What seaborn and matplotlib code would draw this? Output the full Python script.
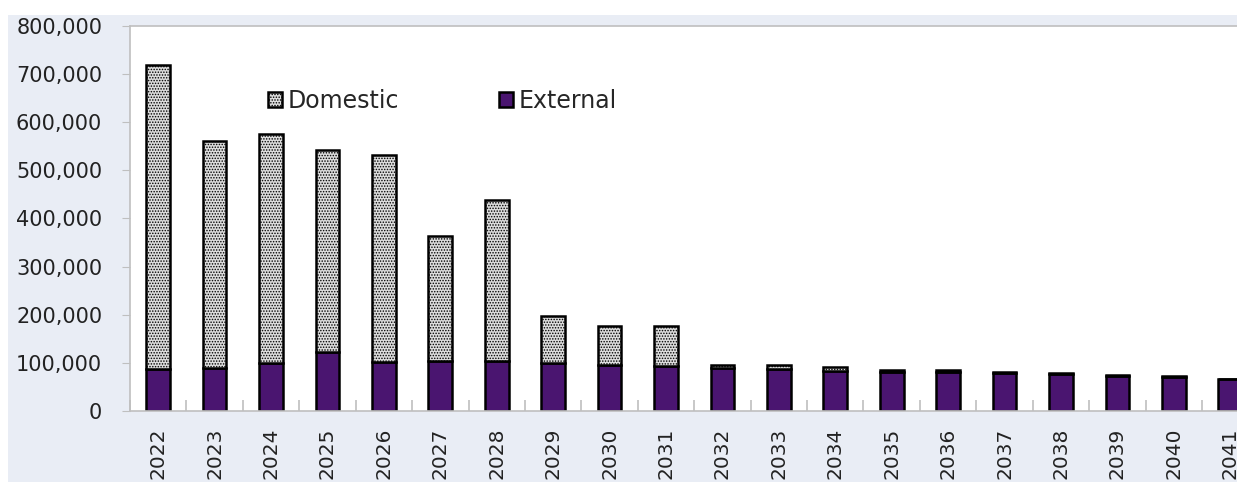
import numpy as np
import pandas as pd
import seaborn as sns
import matplotlib.pyplot as plt
from matplotlib.patches import Patch, Rectangle
from matplotlib.ticker import FuncFormatter, MultipleLocator

years = [str(y) for y in range(2022, 2042)]
external = [87000, 89000, 100000, 122000, 102000, 104000, 104000, 99000, 95000, 93000,
            90000, 88000, 84000, 82000, 82000, 78000, 76000, 73000, 71000, 66000]
domestic = [631000, 471000, 475000, 420000, 429000, 259000, 334000, 99000, 81000, 83000,
            5500, 7000, 7500, 3500, 3500, 3000, 2500, 2000, 1500, 1000]

df = pd.DataFrame({'year': years, 'external': external, 'domestic': domestic})

sns.set_style('white')
plt.rcParams['font.family'] = ['DejaVu Sans']
plt.rcParams['hatch.color'] = '#4d4d4d'
plt.rcParams['hatch.linewidth'] = 0.7

dom_color = '#dcdcdc'
ext_color = '#4a1570'
grid_gray = '#bfbfbf'

fig = plt.figure(figsize=(12.37, 4.82), dpi=100)
fig.patch.set_facecolor('white')
fig.patches.append(Rectangle((8 / 1237, 0), 1, 1 - 15 / 482, transform=fig.transFigure,
                             facecolor='#e9edf5', edgecolor='none', zorder=-10))

ax = fig.add_axes([130 / 1237, 1 - 411 / 482, 1 - 130 / 1237, (411 - 26) / 482])
ax.set_facecolor('white')

sns.barplot(data=df, x='year', y='external', color=ext_color, width=0.42,
            edgecolor='black', linewidth=1.8, saturation=1, ax=ax)
sns.barplot(data=df, x='year', y='domestic', bottom=df['external'], color=dom_color,
            width=0.42, edgecolor='black', linewidth=1.8, saturation=1,
            hatch='......', ax=ax)

ax.set_ylim(0, 800000)
ax.set_xlim(-0.48, 19.12)
ax.yaxis.set_major_locator(MultipleLocator(100000))
ax.yaxis.set_major_formatter(FuncFormatter(lambda v, p: f'{v:,.0f}'))
ax.set_xlabel('')
ax.set_ylabel('')

for side in ['left', 'bottom', 'top']:
    ax.spines[side].set_color(grid_gray)
    ax.spines[side].set_linewidth(1.2)
ax.spines['right'].set_visible(False)

ax.tick_params(axis='y', which='major', left=True, length=6, color=grid_gray,
               labelsize=15, pad=14, labelcolor='#222222')
ax.tick_params(axis='x', which='major', bottom=False, length=0, labelsize=14.5, pad=12,
               labelcolor='#222222', rotation=90)
ax.set_xticks(np.arange(-0.5, 19.5, 1), minor=True)
ax.tick_params(axis='x', which='minor', bottom=True, direction='in', length=8,
               color=grid_gray, width=1.2)
for lbl in ax.get_xticklabels():
    lbl.set_verticalalignment('top')

handles = [Patch(facecolor=dom_color, edgecolor='black', hatch='......', linewidth=1.8, label='Domestic'),
           Patch(facecolor=ext_color, edgecolor='black', linewidth=1.8, label='External')]
fig.legend(handles=handles, loc='center left', bbox_to_anchor=(268 / 1237, 1 - 101 / 482),
           ncol=2, frameon=False, fontsize=17, handlelength=0.6, handleheight=0.6,
           handletextpad=0.25, columnspacing=4.2, borderaxespad=0, borderpad=0)

fig.savefig('out.png', dpi=100)
